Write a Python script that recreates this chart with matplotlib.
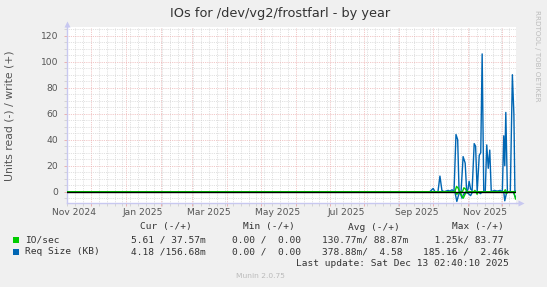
import matplotlib
matplotlib.use("Agg")
import matplotlib.pyplot as plt
import matplotlib.dates as mdates
import numpy as np
import pandas as pd
from matplotlib.ticker import MultipleLocator

# ---------------- data ----------------
x_start = "2024-11-09 08:00"
x_end = "2025-12-13 02:40"

reqsize_write_dates = ["2024-11-09 08:00", "2025-09-28 00:00", "2025-10-01 00:00", "2025-10-02 14:00",
                       "2025-10-05 06:00", "2025-10-07 00:00", "2025-10-08 18:00", "2025-10-10 14:00",
                       "2025-10-14 06:00", "2025-10-16 00:00", "2025-10-17 18:00", "2025-10-19 12:00",
                       "2025-10-21 06:00", "2025-10-22 18:00", "2025-10-24 00:00", "2025-10-25 18:00",
                       "2025-10-27 14:00", "2025-10-29 10:00", "2025-10-30 18:00", "2025-11-01 00:00",
                       "2025-11-01 22:00", "2025-11-03 06:00", "2025-11-04 14:00", "2025-11-06 10:00",
                       "2025-11-07 16:00", "2025-11-09 02:00", "2025-11-10 22:00", "2025-11-12 06:00",
                       "2025-11-13 12:00", "2025-11-14 22:00", "2025-11-16 06:00", "2025-11-17 14:00",
                       "2025-11-18 22:00", "2025-11-20 06:00", "2025-11-21 14:00", "2025-11-24 06:00",
                       "2025-11-26 22:00", "2025-11-29 14:00", "2025-12-01 10:00", "2025-12-02 16:00",
                       "2025-12-03 14:00", "2025-12-04 12:00", "2025-12-05 22:00", "2025-12-08 12:00",
                       "2025-12-10 08:00", "2025-12-11 16:00", "2025-12-12 14:00", "2025-12-13 02:40"]
reqsize_write_vals = [0, 0, 2.5, 0,
                      0, 12, 1, 0,
                      1, 0.5, 1.5, 0,
                      44, 40, 0, 0,
                      27, 22, 0, 2,
                      8, 2, 1, 37,
                      35, 0, 28, 30,
                      106, 0, 0, 36,
                      18, 32, 0, 1,
                      0.5, 1, 0, 43,
                      20, 61, 0, 0,
                      90, 60, 0.16, 0.157]

reqsize_read_dates = ["2024-11-09 08:00", "2025-10-20 06:00", "2025-10-22 00:00", "2025-10-23 10:00",
                      "2025-10-24 18:00", "2025-10-26 14:00", "2025-10-28 00:00", "2025-10-30 06:00",
                      "2025-11-03 06:00", "2025-11-05 00:00", "2025-11-10 00:00", "2025-11-12 00:00",
                      "2025-11-13 12:00", "2025-12-02 16:00", "2025-12-03 14:00", "2025-12-05 00:00",
                      "2025-12-06 12:00", "2025-12-11 00:00", "2025-12-13 02:40"]
reqsize_read_vals = [0, 0, 7.5, 3,
                     0, 5, 2, 0,
                     3, 0, 0, 1.5,
                     0, 0, 7, 1.5,
                     0, 0, 4.18]

iosec_write_dates = ["2024-11-09 08:00", "2025-10-20 06:00", "2025-10-21 18:00", "2025-10-23 00:00",
                     "2025-10-24 12:00", "2025-10-27 00:00", "2025-10-28 06:00", "2025-10-29 18:00",
                     "2025-10-31 00:00", "2025-11-06 00:00", "2025-11-07 00:00", "2025-11-08 00:00",
                     "2025-12-03 00:00", "2025-12-04 00:00", "2025-12-05 00:00", "2025-12-13 02:40"]
iosec_write_vals = [0, 0, 4, 3,
                    0, 0, 3, 2,
                    0, 0, 1, 0,
                    0, 1.5, 0, 0.038]

iosec_read_dates = ["2024-11-09 08:00", "2025-10-20 12:00", "2025-10-22 00:00", "2025-10-23 06:00",
                    "2025-10-24 18:00", "2025-10-26 06:00", "2025-10-27 18:00", "2025-10-29 06:00",
                    "2025-10-31 00:00", "2025-11-08 00:00", "2025-11-09 00:00", "2025-11-10 00:00",
                    "2025-12-04 00:00", "2025-12-05 00:00", "2025-12-06 00:00", "2025-12-11 12:00",
                    "2025-12-13 02:40"]
iosec_read_vals = [0, 0, 2, 1,
                   0, 3, 5, 2,
                   0, 0, 2, 0,
                   0, 1.5, 0, 0,
                   5.61]

month_label_dates = ["2024-11-16", "2025-01-16", "2025-03-16", "2025-05-16",
                     "2025-07-16", "2025-09-16", "2025-11-16"]
month_labels = ["Nov 2024", "Jan 2025", "Mar 2025", "May 2025", "Jul 2025", "Sep 2025", "Nov 2025"]

series_names = ["IO/sec", "Req Size (KB)"]
series_colors = ["#00CC00", "#0066B3"]
legend_cur = ["5.61 / 37.57m", "4.18 /156.68m"]
legend_min = ["0.00 /  0.00", "0.00 /  0.00"]
legend_avg = ["130.77m/ 88.87m", "378.88m/  4.58"]
legend_max = ["  1.25k/ 83.77", "185.16 /  2.46k"]

title = "IOs for /dev/vg2/frostfarl - by year"
ylabel = "Units read (-) / write (+)"
last_update = "Last update: Sat Dec 13 02:40:10 2025"
version = "Munin 2.0.75"

# ---------------- figure ----------------
W, H = 547, 287
fig = plt.figure(figsize=(W / 100, H / 100), dpi=100, facecolor="#F0F0F0")

L, R, T, B = 66.5, 515.5, 26.5, 203
ax = fig.add_axes([L / W, (H - B) / H, (R - L) / W, (B - T) / H])
ax.set_facecolor("#FFFFFF")

mono = "DejaVu Sans Mono"
txtc = "#333333"
tickc = "#555555"
minor_c = "#CFCFCF"
major_c = "#EAA6A6"
axis_c = "#C8C8F0"

def dt(lst):
    return pd.to_datetime(lst)

ax.plot(dt(reqsize_write_dates), reqsize_write_vals, color=series_colors[1], lw=1.0, zorder=4)
ax.plot(dt(reqsize_read_dates), -np.array(reqsize_read_vals), color=series_colors[1], lw=1.0, zorder=4)
ax.plot(dt(iosec_write_dates), iosec_write_vals, color=series_colors[0], lw=1.0, zorder=5)
ax.plot(dt(iosec_read_dates), -np.array(iosec_read_vals), color=series_colors[0], lw=1.0, zorder=5)
ax.axhline(0, color="#000000", lw=1.0, zorder=6)

ax.set_xlim(pd.Timestamp(x_start), pd.Timestamp(x_end))
ax.set_ylim(-8.7, 127.1)

ax.xaxis.set_major_locator(mdates.MonthLocator())
ax.xaxis.set_minor_locator(mdates.WeekdayLocator(byweekday=mdates.SU))
ax.yaxis.set_major_locator(MultipleLocator(20))
ax.yaxis.set_minor_locator(MultipleLocator(5))
ax.xaxis.set_major_formatter(plt.NullFormatter())

ax.grid(which="minor", color=minor_c, lw=0.55, linestyle=(0, (1, 1.4)), zorder=1)
ax.grid(which="major", color=major_c, lw=0.55, linestyle=(0, (1, 1.4)), zorder=2)
ax.set_axisbelow(True)

ax.tick_params(axis="both", which="major", length=2.5, width=0.6, color=major_c,
               labelsize=6.6, labelcolor=tickc, pad=3.5)
ax.tick_params(axis="both", which="minor", length=2, width=0.6, color=minor_c)

for s in ["top", "right"]:
    ax.spines[s].set_visible(False)
for s in ["left", "bottom"]:
    ax.spines[s].set_color(axis_c)
    ax.spines[s].set_linewidth(1.0)

# axis arrows
ax.plot([1, 1 + 4 / (R - L)], [0, 0], transform=ax.transAxes, color=axis_c, lw=1.0, clip_on=False)
ax.plot([1 + 5 / (R - L)], [0], transform=ax.transAxes, marker=">", ms=4.5, color=axis_c,
        clip_on=False, mec="none")
ax.plot([0, 0], [1, 1 + 2 / (B - T)], transform=ax.transAxes, color=axis_c, lw=1.0, clip_on=False)
ax.plot([0], [1 + 3 / (B - T)], transform=ax.transAxes, marker="^", ms=4.5, color=axis_c,
        clip_on=False, mec="none")

# month labels (centered mid-interval like rrdtool)
for d, lab in zip(month_label_dates, month_labels):
    ax.text(pd.Timestamp(d), -(212.5 - B) / (B - T), lab, transform=ax.get_xaxis_transform(),
            ha="center", va="center", fontsize=6.6, color=tickc)

def fx(px):
    return px / W

def fy(py):
    return (H - py) / H

fig.text(fx(280), fy(13), title, ha="center", va="center", fontsize=9.3, color=txtc)
fig.text(fx(10), fy(116), ylabel, ha="center", va="center", rotation=90, fontsize=7.8, color=tickc)
fig.text(fx(536.7), fy(102), "RRDTOOL / TOBI OETIKER", ha="center", va="bottom", rotation=270,
         fontsize=5.1, color="#BBBBBB")

# legend block
headers = ["Cur (-/+)", "Min (-/+)", "Avg (-/+)", "Max (-/+)"]
header_x = [140, 243, 348, 452]
for hx, htxt in zip(header_x, headers):
    fig.text(fx(hx), fy(227), htxt, ha="left", va="center", family=mono, fontsize=6.8, color=txtc)

row_y = [240, 251.7]
col_x = [131, 232, 322, 423]
for i in range(2):
    fig.patches.append(plt.Rectangle((fx(13), fy(row_y[i] + 3)), 6 / W, 6 / H,
                                     transform=fig.transFigure, color=series_colors[i], lw=0))
    fig.text(fx(25), fy(row_y[i]), series_names[i], ha="left", va="center", family=mono,
             fontsize=6.8, color=txtc)
    for cx, vals in zip(col_x, [legend_cur, legend_min, legend_avg, legend_max]):
        fig.text(fx(cx), fy(row_y[i]), vals[i], ha="left", va="center", family=mono,
                 fontsize=6.8, color=txtc)

fig.text(fx(509), fy(263.5), last_update, ha="right", va="center", family=mono, fontsize=6.8, color=txtc)
fig.text(fx(260), fy(276), version, ha="center", va="center", fontsize=5.4, color="#BBBBBB")

fig.savefig("out.png", dpi=100, facecolor=fig.get_facecolor())
